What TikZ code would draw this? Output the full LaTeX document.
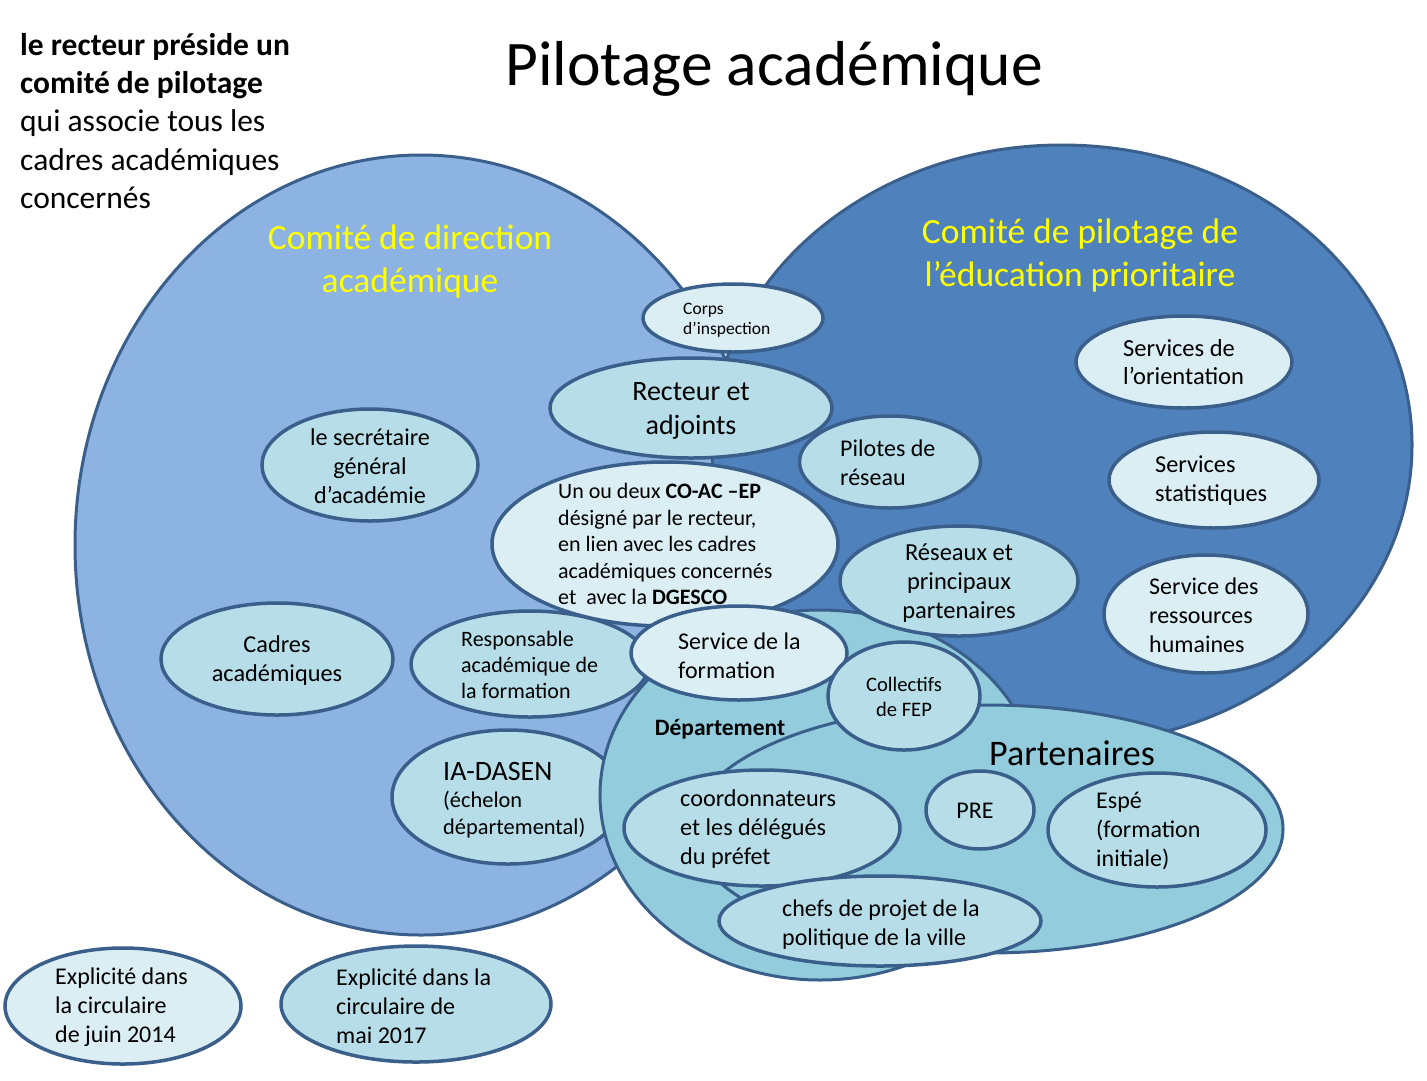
\documentclass[tikz,border=0pt]{standalone}
\usepackage{fontspec}
\setmainfont{Carlito}
\usetikzlibrary{shapes.geometric}
\newcommand\fsz[2]{\fontsize{#1}{#2}\selectfont}
\definecolor{bord}{HTML}{3A5F8B}
\definecolor{cLeft}{HTML}{8DB3E2}
\definecolor{cRight}{HTML}{4F81BD}
\definecolor{cDept}{HTML}{93CDDD}
\definecolor{cDark}{HTML}{B7DEE8}
\definecolor{cLight}{HTML}{DBEEF4}
\definecolor{cYel}{HTML}{FFFF00}
\begin{document}
\begin{tikzpicture}[x=1pt,y=-1pt,
  bigell/.style={draw=bord, line width=3pt, ellipse, inner sep=0pt},
  smallell/.style={draw=bord, line width=3.5pt, ellipse, inner sep=0pt},
  dk/.style={smallell, fill=cDark},
  lt/.style={smallell, fill=cLight},
  txt/.style={inner sep=0pt, text=black},
  ltxt/.style={txt, anchor=west, align=left},
  ctxt/.style={txt, align=center},
  ytxt/.style={inner sep=0pt, text=cYel, align=center, font=\fsz{35.5}{43}}
]
\useasboundingbox (0,0) rectangle (1427,1080);
\fill[white] (0,0) rectangle (1427,1080);

% big ellipses
\node[bigell, fill=cLeft, minimum width=692pt, minimum height=780pt] (codir) at (421,545) {};
\node[bigell, fill=cRight, minimum width=700pt, minimum height=600pt] (copil) at (1062,445) {};

\node[ytxt] (codirT) at (410,262) {Comité de direction\\académique};
\node[ytxt] (copilT) at (1080,256) {Comité de pilotage de\\l’éducation prioritaire};

% ellipses partly under the department
\node[dk, minimum width=232pt, minimum height=134pt] (ia) at (508,797) {};
\node[dk, minimum width=238pt, minimum height=106pt] (resp) at (530,664) {};

% department and partners
\node[bigell, fill=cDept, minimum width=440pt, minimum height=370pt] (dept) at (820,795) {};
\node[bigell, fill=cDept, minimum width=592pt, minimum height=248pt] (part) at (987,829) {};

% small ellipses
\node[lt, minimum width=180pt, minimum height=68pt] (corps) at (733,318) {};
\node[dk, minimum width=282pt, minimum height=100pt] (recteur) at (691,408) {};
\node[dk, minimum width=216pt, minimum height=112pt] (sg) at (370,465) {};
\node[dk, minimum width=181pt, minimum height=92pt] (pilotes) at (890,462) {};
\node[lt, minimum width=346pt, minimum height=164pt] (coac) at (665,544) {};
\node[dk, minimum width=238pt, minimum height=110pt] (reseaux) at (959,581) {};
\node[lt, minimum width=216pt, minimum height=92pt] (orient) at (1184,362) {};
\node[lt, minimum width=210pt, minimum height=96pt] (stat) at (1214,480) {};
\node[lt, minimum width=204pt, minimum height=118pt] (rh) at (1206,614) {};
\node[dk, minimum width=232pt, minimum height=112pt] (cadres) at (277,659) {};
\node[lt, minimum width=216pt, minimum height=94pt] (sform) at (739,653) {};
\node[dk, minimum width=152pt, minimum height=108pt] (fep) at (904,696) {};
\node[dk, minimum width=276pt, minimum height=116pt] (coord) at (762,828) {};
\node[dk, minimum width=108pt, minimum height=78pt] (pre) at (980,810) {};
\node[dk, minimum width=218pt, minimum height=114pt] (espe) at (1157,830) {};
\node[dk, minimum width=322pt, minimum height=90pt] (chefs) at (880,921) {};
\node[lt, minimum width=236pt, minimum height=116pt] (leg1) at (123,1006) {};
\node[dk, minimum width=270pt, minimum height=116pt] (leg2) at (416,1004) {};

% texts
\node[txt, font=\fsz{63.5}{70}] (title) at (774,69) {Pilotage académique};
\node[ltxt, font=\fsz{31.5}{38.3}] (intro) at (20,121) {\textbf{le recteur préside un}\\\textbf{comité de pilotage}\\qui associe tous les\\cadres académiques\\concernés};

\node[ltxt, font=\fsz{17.5}{20}] (corpsT) at (683,320) {Corps\\d’inspection};
\node[ctxt, font=\fsz{28}{34}] (recteurT) at (691,411) {Recteur et\\adjoints};
\node[ctxt, font=\fsz{24.2}{29}] (sgT) at (370,466) {le secrétaire\\général\\d’académie};
\node[ltxt, font=\fsz{24}{29}] (pilotesT) at (840,463) {Pilotes de\\réseau};
\node[ltxt, font=\fsz{22}{26.5}] (coacT) at (558,544) {Un ou deux \textbf{CO-AC –EP}\\désigné par le recteur,\\en lien avec les cadres\\académiques concernés\\et~ avec la \textbf{DGESCO}};
\node[ctxt, font=\fsz{24.5}{29}] (reseauxT) at (959,583) {Réseaux et\\principaux\\partenaires};
\node[ltxt, font=\fsz{24.5}{28}] (orientT) at (1123,362) {Services de\\l’orientation};
\node[ltxt, font=\fsz{24.3}{29}] (statT) at (1155,481) {Services\\statistiques};
\node[ltxt, font=\fsz{24}{29}] (rhT) at (1149,615) {Service des\\ressources\\humaines};
\node[ctxt, font=\fsz{24.3}{29}] (cadresT) at (277,661) {Cadres\\académiques};
\node[ltxt, font=\fsz{22}{26}] (respT) at (461,665) {Responsable\\académique de\\la formation};
\node[ltxt, font=\fsz{24}{29}] (sformT) at (678,656) {Service de la\\formation};
\node[ctxt, font=\fsz{20.6}{25}] (fepT) at (904,697) {Collectifs\\de FEP};
\node[txt, font=\fsz{23.5}{27}\bfseries] (deptT) at (720,729) {Département};
\node[ltxt, font=\fsz{22.4}{27}] (iaT) at (443,800) {{\fsz{28}{30}IA-DASEN}\\(échelon\\départemental)};
\node[txt, font=\fsz{36}{40}] (partT) at (1072,753) {Partenaires};
\node[ltxt, font=\fsz{24.2}{29}] (coordT) at (680,829) {coordonnateurs\\et les délégués\\du préfet};
\node[txt, font=\fsz{24}{29}] (preT) at (975,811) {PRE};
\node[ltxt, font=\fsz{24}{29}] (espeT) at (1096,831) {Espé\\(formation\\initiale)};
\node[ltxt, font=\fsz{24}{29}] (chefsT) at (782,925) {chefs de projet de la\\politique de la ville};
\node[ltxt, font=\fsz{24}{29}] (leg1T) at (55,1007) {Explicité dans\\la circulaire\\de juin 2014};
\node[ltxt, font=\fsz{24}{29}] (leg2T) at (336,1006) {Explicité dans la\\circulaire de\\mai 2017};
\end{tikzpicture}
\end{document}
